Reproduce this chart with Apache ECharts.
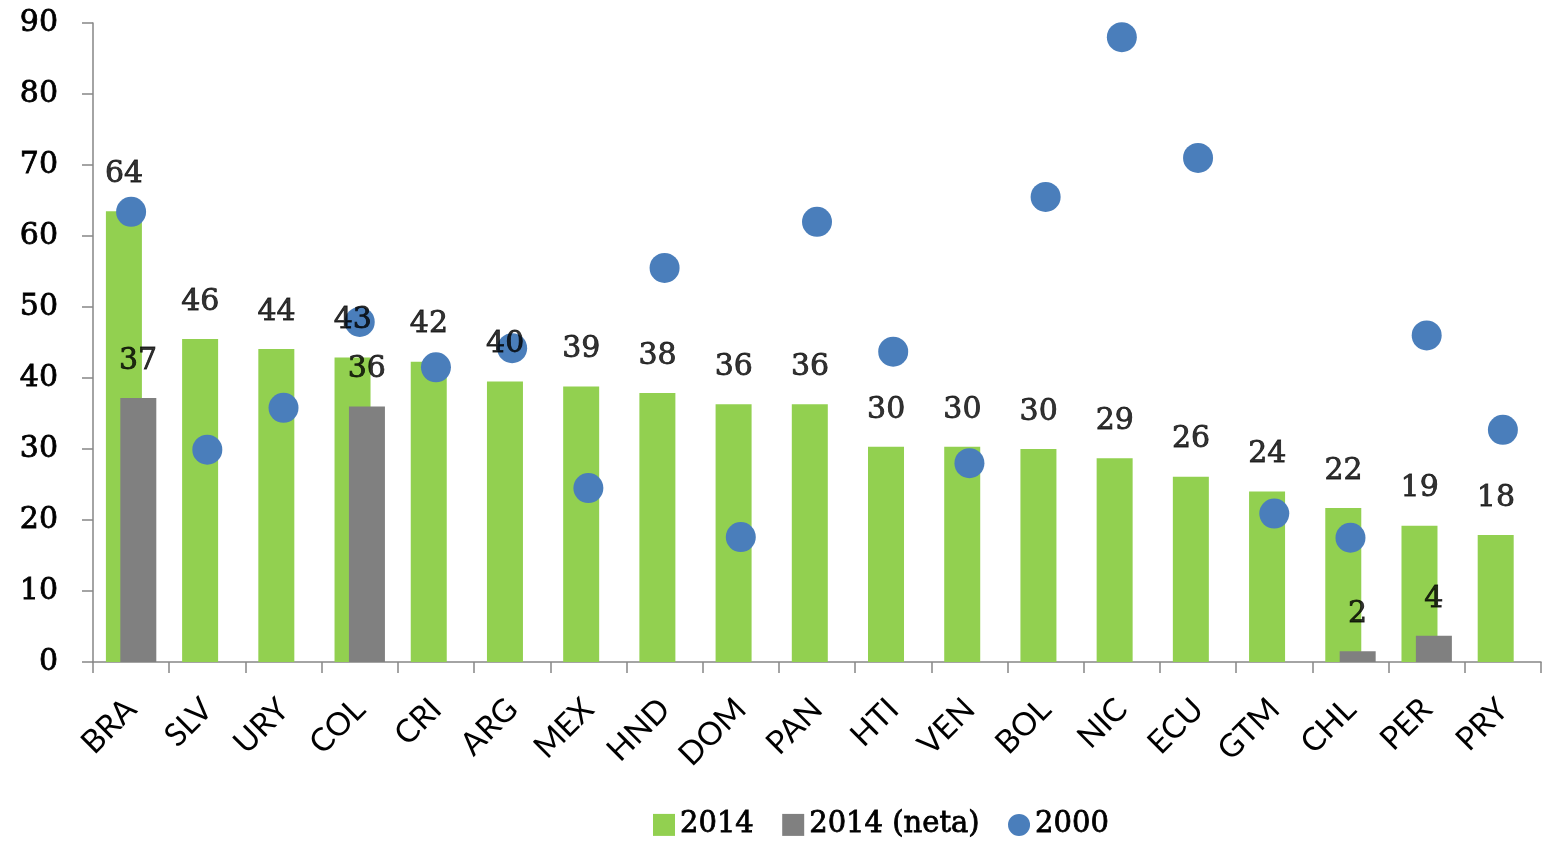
<!DOCTYPE html>
<html>
<head>
<meta charset="utf-8">
<script src="https://cdn.jsdelivr.net/npm/echarts@6/dist/echarts.min.js"></script>
<style>
html,body{margin:0;padding:0;background:#fff;}
#chart{width:1542px;height:841px;}
</style>
</head>
<body>
<div id="chart"></div>
<script>
const categories = ['BRA','SLV','URY','COL','CRI','ARG','MEX','HND','DOM','PAN','HTI','VEN','BOL','NIC','ECU','GTM','CHL','PER','PRY'];
const values2014 = [63.5,45.5,44.1,42.9,42.3,39.5,38.8,37.9,36.3,36.3,30.3,30.3,30.0,28.7,26.1,24.0,21.7,19.2,17.9];
const values2014Neta = [37.2,null,null,36.0,null,null,null,null,null,null,null,null,null,null,null,null,1.5,3.7,null];
const values2000 = [63.4,29.9,35.8,47.9,41.5,44.2,24.5,55.5,17.6,62.0,43.7,28.0,65.5,88.0,71.0,20.9,17.5,46.0,32.7];
const yTicks = {min:0, max:90, interval:10};

const serifFont = 'DejaVu Serif';
const sansFont = 'Lato';
const numStyle = {fontFamily:serifFont, fontSize:30, color:'#000', textBorderColor:'#000', textBorderWidth:0.8};

const chart = echarts.init(document.getElementById('chart'), null, {renderer:'canvas'});
chart.setOption({
  animation:false,
  backgroundColor:'#ffffff',
  grid:{left:93, right:1, top:23, bottom:179, containLabel:false},
  legend:{
    data:[
      {name:'2014', icon:'rect'},
      {name:'2014 (neta)', icon:'rect'},
      {name:'2000', icon:'circle'}
    ],
    left:648, top:805,
    itemWidth:22, itemHeight:22, itemGap:28,
    textStyle:{fontFamily:serifFont, fontSize:29, color:'#000', textBorderColor:'#000', textBorderWidth:0.8}
  },
  xAxis:{
    type:'category',
    data:categories,
    axisLine:{show:true, lineStyle:{color:'#868686', width:1.5}},
    axisTick:{show:true, length:11, lineStyle:{color:'#868686', width:1.5}},
    axisLabel:{rotate:45, margin:42, fontFamily:sansFont, fontSize:32, color:'#000', interval:0}
  },
  yAxis:{
    type:'value',
    min:yTicks.min, max:yTicks.max, interval:yTicks.interval,
    splitLine:{show:false},
    axisLine:{show:true, lineStyle:{color:'#868686', width:1.5}},
    axisTick:{show:true, length:11, lineStyle:{color:'#868686', width:1.5}},
    axisLabel:Object.assign({margin:35}, numStyle)
  },
  series:[
    {
      name:'2014', type:'bar', data:values2014,
      barWidth:36, barGap:'-60%',
      itemStyle:{color:'#92D050'}, z:2
    },
    {
      name:'2014 (neta)', type:'bar', data:values2014Neta,
      barWidth:36, barGap:'-60%',
      itemStyle:{color:'#808080'}, z:2
    },
    {
      name:'2000', type:'scatter', data:values2000,
      symbol:'circle', symbolSize:30,
      itemStyle:{color:'#4A7EBB', opacity:1}, z:3
    },
    {
      name:'lbl2014', type:'scatter', data:values2014,
      symbolSize:0, silent:true, z:5,
      label:Object.assign({show:true, position:'top', distance:22, offset:[-7,0],
        formatter:p => Math.round(p.value)}, numStyle)
    },
    {
      name:'lblNeta', type:'scatter', data:values2014Neta,
      symbolSize:0, silent:true, z:5,
      label:Object.assign({show:true, position:'top', distance:22, offset:[7,0],
        formatter:p => (p.value == null ? '' : Math.round(p.value))}, numStyle)
    }
  ]
});
</script>
</body>
</html>
